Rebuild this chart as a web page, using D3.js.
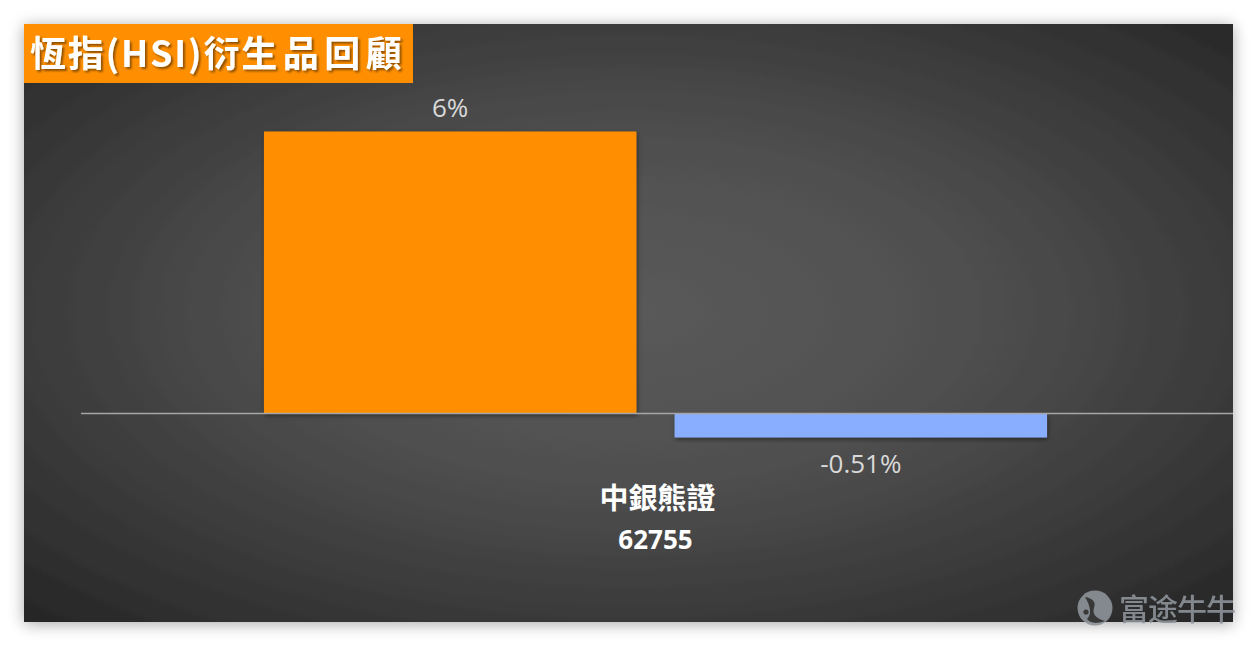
<!DOCTYPE html>
<html><head><meta charset="utf-8">
<script src="https://cdn.jsdelivr.net/npm/d3@7"></script>
<style>
html,body{margin:0;padding:0;background:#fff;}
svg{display:block;}
</style></head>
<body>
<svg id="c" width="1257" height="647"></svg>
<script>
const categories = ["中銀熊證\n62755"];
const seriesNames = ["s1", "s2"];
const seriesValues = [6, -0.51];
const valueLabels = ["6%", "-0.51%"];
const seriesColors = ["#ff8f00", "#8aaeff"];
const titleParts = ["恆指(HSI)衍", "生品回顧"];

const svg = d3.select("#c");
const defs = svg.append("defs");

const rg = defs.append("radialGradient").attr("id","bg").attr("cx","50%").attr("cy","48%").attr("r","72%");
rg.append("stop").attr("offset","0%").attr("stop-color","#5a5a5a");
rg.append("stop").attr("offset","40%").attr("stop-color","#4f4f4f");
rg.append("stop").attr("offset","100%").attr("stop-color","#262626");

const sh = defs.append("filter").attr("id","sh").attr("x","-10%").attr("y","-10%").attr("width","120%").attr("height","120%");
sh.append("feGaussianBlur").attr("in","SourceAlpha").attr("stdDeviation",8);
sh.append("feOffset").attr("dx",0).attr("dy",2).attr("result","b");
sh.append("feComponentTransfer").append("feFuncA").attr("type","linear").attr("slope",0.35);
const m = sh.append("feMerge"); m.append("feMergeNode"); m.append("feMergeNode").attr("in","SourceGraphic");

const bsh = defs.append("filter").attr("id","bsh").attr("x","-10%").attr("y","-10%").attr("width","120%").attr("height","130%");
bsh.append("feGaussianBlur").attr("in","SourceAlpha").attr("stdDeviation",2.5);
bsh.append("feOffset").attr("dx",1).attr("dy",2);
bsh.append("feComponentTransfer").append("feFuncA").attr("type","linear").attr("slope",0.45);
const m2 = bsh.append("feMerge"); m2.append("feMergeNode"); m2.append("feMergeNode").attr("in","SourceGraphic");

const tsh = defs.append("filter").attr("id","tsh").attr("x","-10%").attr("y","-20%").attr("width","120%").attr("height","150%");
tsh.append("feGaussianBlur").attr("in","SourceAlpha").attr("stdDeviation",1.2);
tsh.append("feOffset").attr("dx",2).attr("dy",2);
tsh.append("feComponentTransfer").append("feFuncA").attr("type","linear").attr("slope",0.45);
const m3 = tsh.append("feMerge"); m3.append("feMergeNode"); m3.append("feMergeNode").attr("in","SourceGraphic");

// panel
svg.append("rect").attr("x",24).attr("y",24).attr("width",1209).attr("height",598)
  .attr("fill","url(#bg)").attr("filter","url(#sh)");

// scales
const x = d3.scaleBand().domain(categories).range([78,1233]).paddingInner(0).paddingOuter(0.2375);
const x1 = d3.scaleBand().domain(seriesNames).range([0, x.bandwidth()]).paddingInner(0.093);
const y = d3.scaleLinear().domain([-1,7]).range([460.5,84.5]);

const g = svg.append("g");
categories.forEach(cat => {
  seriesNames.forEach((s,i) => {
    const v = seriesValues[i];
    const bx = x(cat) + x1(s);
    g.append("rect").attr("x",bx).attr("width",x1.bandwidth())
      .attr("y", y(Math.max(0,v))).attr("height", Math.abs(y(v)-y(0)))
      .attr("fill", seriesColors[i]).attr("filter","url(#bsh)");
    const ly = v >= 0 ? y(v) - 15 : y(v) + 36;
    g.append("text").attr("x", bx + x1.bandwidth()/2).attr("y", ly)
      .attr("text-anchor","middle").attr("fill","#d9d9d9")
      .attr("font-family","'Open Sans','Noto Sans',sans-serif").attr("font-size",26)
      .text(valueLabels[i]);
  });
});

// zero line
svg.append("line").attr("x1",81).attr("x2",1233).attr("y1",y(0)).attr("y2",y(0))
  .attr("stroke","#a6a6a6").attr("stroke-width",1.3);

// category labels
categories.forEach(cat => {
  const lines = cat.split("\n");
  const cx = x(cat) + x.bandwidth()/2;
  lines.forEach((ln,k) => {
    svg.append("text").attr("x",cx + (k===0 ? 2 : 0)).attr("y",509 + k*40).attr("text-anchor","middle")
      .attr("fill","#ffffff").attr("font-weight","bold")
      .attr("font-family", k===0 ? "'Noto Sans CJK TC',sans-serif" : "'Open Sans',sans-serif")
      .attr("font-size", k===0 ? 29 : 26)
      .text(ln);
  });
});

// title box
svg.append("rect").attr("x",24).attr("y",24).attr("width",389).attr("height",59).attr("fill","#ff8f00");
const tt = svg.append("text").attr("x",30).attr("y",67).attr("fill","#ffffff").attr("font-weight","bold")
  .attr("font-family","'Noto Sans CJK TC',sans-serif").attr("font-size",36)
  .attr("filter","url(#tsh)");
tt.append("tspan").attr("letter-spacing",1.8).text(titleParts[0]);
tt.append("tspan").attr("letter-spacing",5.5).text(titleParts[1]);

// watermark
const wm = svg.append("g").attr("opacity",0.9);
wm.append("circle").attr("cx",1095).attr("cy",608).attr("r",17.5).attr("fill","#8d9399");
wm.append("path").attr("d","M1085,597 q12,2 9,11 q-3,9 11,13 q-12,5 -18,-2 q7,-7 -2,-22 z").attr("fill","#3a3a3a");
wm.append("circle").attr("cx",1086).attr("cy",612).attr("r",2.6).attr("fill","#3a3a3a");
wm.append("text").attr("x",1119).attr("y",620).attr("fill","#8d9399")
  .attr("font-family","'Noto Sans CJK SC',sans-serif").attr("font-weight","500").attr("font-size",30)
  .attr("textLength",117).attr("lengthAdjust","spacing")
  .text("富途牛牛");
</script>
</body></html>
